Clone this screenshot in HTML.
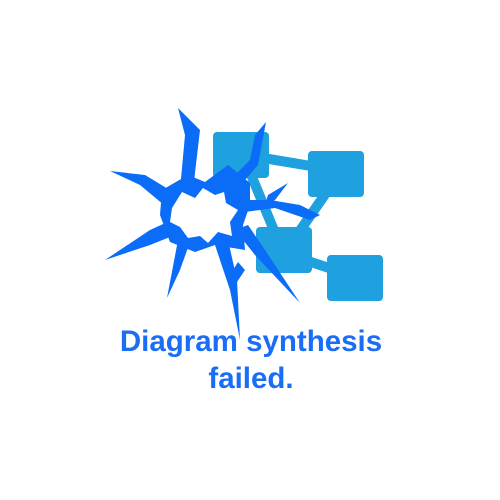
<!DOCTYPE html>
<html><head><style>
html,body{margin:0;padding:0;background:#fff;}
#c{position:relative;width:500px;height:500px;overflow:hidden;}
.t{position:absolute;left:0;width:502px;text-align:center;font-family:"Liberation Sans",sans-serif;font-weight:bold;font-size:29.5px;color:#1a6ef5;}
</style></head><body>
<div id="c">
<svg width="500" height="500">
  <g stroke="#1fa0df" stroke-width="10">
    <line x1="245" y1="155" x2="335" y2="170"/>
    <line x1="245" y1="160" x2="280" y2="245"/>
    <line x1="335" y1="180" x2="290" y2="245"/>
    <line x1="290" y1="255" x2="350" y2="275"/>
  </g>
  <g fill="#1fa0df">
    <rect x="213" y="132" width="56" height="46" rx="4"/>
    <rect x="308" y="151" width="56" height="46" rx="4"/>
    <rect x="256" y="227" width="56" height="46" rx="4"/>
    <rect x="327" y="255" width="56" height="46" rx="4"/>
  </g>
  <g fill="#0a6cf7">
    <polygon points="162,190 188,175 205,182 228,165 250,183 250,205 243,225 245,250 215,245 195,252 170,242 160,215"/>
    <polygon points="178,108 200,130 193,190 180,190 185,135"/>
    <polygon points="266,122 255,135 250,160 220,190 232,195 258,165"/>
    <polygon points="110,171 145,175 178,195 170,210 140,185"/>
    <polygon points="105,260 150,230 172,220 175,235 150,245"/>
    <polygon points="167,298 178,240 190,242 180,270"/>
    <polygon points="240,340 230,290 215,245 228,240 237,280"/>
    <polygon points="300,303 255,255 235,230 248,225 265,250"/>
    <polygon points="320,215 300,205 270,200 245,200 245,212 275,208 310,220"/>
    <polygon points="288,183 275,200 265,205 268,195"/>
    <polygon points="238,262 230,275 235,285 245,270"/>
  </g>
  <polygon fill="#fff" points="172,208 182,192 195,198 203,188 215,195 224,192 226,203 238,210 230,222 232,236 218,232 208,243 200,236 188,238 180,227 170,222"/>
</svg>
<div class="t" style="top:325px;">Diagram synthesis</div>
<div class="t" style="top:362px;">failed.</div>
</div>
</body></html>
